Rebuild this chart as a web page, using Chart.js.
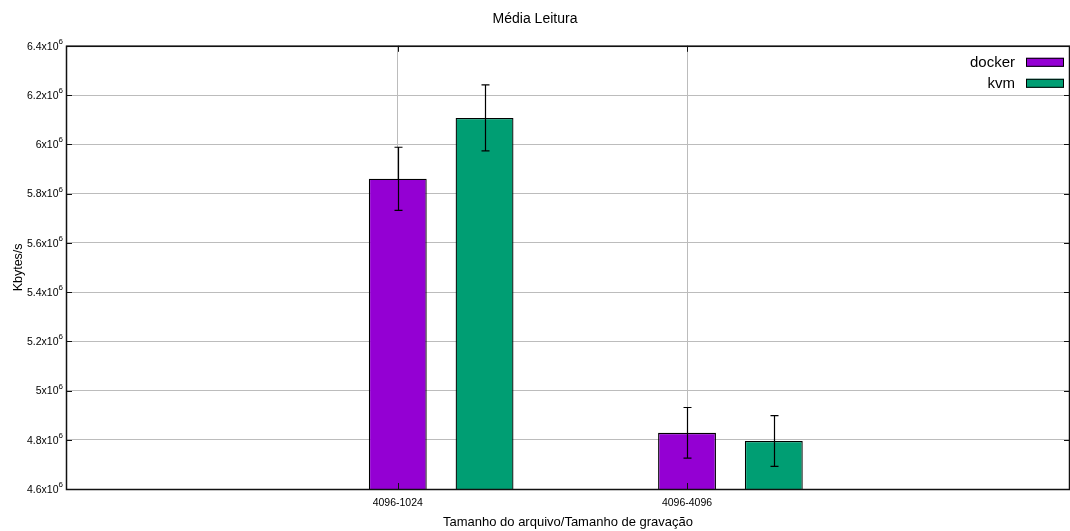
<!DOCTYPE html>
<html>
<head>
<meta charset="utf-8">
<title>Média Leitura</title>
<script src="https://cdn.jsdelivr.net/npm/chart.js@4/dist/chart.umd.min.js"></script>
<style>
  html, body { margin: 0; padding: 0; background: #fff; }
  #wrap { width: 1070px; height: 531px; }
</style>
</head>
<body>
<div id="wrap"><canvas id="chart-leitura"></canvas></div>
<script>
// Read throughput per file size / record size (Kbytes/s), mean and std deviation
const categories = ['4096-1024', '4096-4096'];
const dockerMeans = [5860000, 4828000];
const dockerErrors = [128000, 103000];
const kvmMeans = [6107000, 4795000];
const kvmErrors = [134000, 103000];
const yTicks = [4600000, 4800000, 5000000, 5200000, 5400000, 5600000, 5800000, 6000000, 6200000, 6400000];

const FONT = 'Liberation Sans, Arial, Helvetica, sans-serif';
const colors = {
  docker: '#9400d3',
  kvm: '#009e73',
  grid: '#bcbcbc',
  axis: '#111',
};

// gnuplot-style clustered histogram: second bar sits 0.3 units to the right
const clusterGap = 0.3;

function mantissa(v) {
  return String(Math.round(v / 100000) / 10);
}

// error bars drawn from each bar's centre through the value scale
const errorBars = {
  id: 'errorBars',
  afterDatasetsDraw(chart) {
    const ctx = chart.ctx;
    const y = chart.scales.y;
    ctx.save();
    ctx.strokeStyle = '#000';
    ctx.lineWidth = 1.2;
    chart.data.datasets.forEach((ds, di) => {
      const meta = chart.getDatasetMeta(di);
      meta.data.forEach((bar, i) => {
        const v = ds.data[i].y;
        const e = ds.errors[i];
        const x = Math.round(bar.x) + 0.5;
        const top = y.getPixelForValue(v + e);
        const bot = y.getPixelForValue(v - e);
        ctx.beginPath();
        ctx.moveTo(x, top); ctx.lineTo(x, bot);
        ctx.moveTo(x - 4, top); ctx.lineTo(x + 4, top);
        ctx.moveTo(x - 4, bot); ctx.lineTo(x + 4, bot);
        ctx.stroke();
      });
    });
    ctx.restore();
  },
};

// border box, inward tick marks, y labels with superscript exponent, legend
const frame = {
  id: 'frame',
  afterDraw(chart) {
    const { ctx, chartArea: a } = chart;
    const xs = chart.scales.x, ys = chart.scales.y;
    ctx.save();
    ctx.strokeStyle = colors.axis;
    ctx.lineWidth = 1;
    ctx.beginPath();
    ys.ticks.forEach(t => {
      const py = Math.round(ys.getPixelForValue(t.value)) + 0.5;
      ctx.moveTo(a.left, py); ctx.lineTo(a.left + 6, py);
      ctx.moveTo(a.right, py); ctx.lineTo(a.right - 6, py);
    });
    xs.ticks.forEach(t => {
      const px = Math.round(xs.getPixelForValue(t.value)) + 0.5;
      ctx.moveTo(px, a.bottom); ctx.lineTo(px, a.bottom - 6);
      ctx.moveTo(px, a.top); ctx.lineTo(px, a.top + 6);
    });
    ctx.stroke();
    ctx.lineWidth = 1.5;
    ctx.strokeRect(a.left + 0.5, a.top + 0.5, a.right - a.left - 1, a.bottom - a.top);

    // y tick labels: "m x10" + raised "6"
    ctx.fillStyle = '#000';
    ctx.textBaseline = 'middle';
    ctx.textAlign = 'right';
    ys.ticks.forEach(t => {
      const py = ys.getPixelForValue(t.value);
      ctx.font = '8px ' + FONT;
      const supW = ctx.measureText('6').width;
      ctx.fillText('6', a.left - 3, py - 4);
      ctx.font = '10.5px ' + FONT;
      ctx.fillText(mantissa(t.value) + 'x10', a.left - 3 - supW, py + 1);
    });

    // legend: label right-aligned, swatch on the right
    ctx.font = '15px ' + FONT;
    ctx.textAlign = 'right';
    ctx.textBaseline = 'middle';
    chart.data.datasets.forEach((ds, i) => {
      const boxR = a.right - 6;
      const boxT = a.top + 12 + i * 21;
      ctx.fillStyle = ds.backgroundColor;
      ctx.fillRect(boxR - 38, boxT, 38, 9);
      ctx.lineWidth = 1;
      ctx.strokeStyle = '#000';
      ctx.strokeRect(boxR - 38 + 0.5, boxT + 0.5, 37, 8);
      ctx.fillStyle = '#000';
      ctx.fillText(ds.label, boxR - 49, boxT + 5);
    });
    ctx.restore();
  },
};

new Chart(document.getElementById('chart-leitura'), {
  type: 'bar',
  data: {
    datasets: [
      {
        label: 'docker',
        data: categories.map((c, i) => ({ x: i, y: dockerMeans[i] })),
        errors: dockerErrors,
        backgroundColor: colors.docker,
      },
      {
        label: 'kvm',
        data: categories.map((c, i) => ({ x: i + clusterGap, y: kvmMeans[i] })),
        errors: kvmErrors,
        backgroundColor: colors.kvm,
      },
    ],
  },
  options: {
    responsive: true,
    maintainAspectRatio: false,
    animation: false,
    layout: { padding: { left: 0, right: 0, top: 0, bottom: 0 } },
    datasets: {
      bar: {
        grouped: false,
        categoryPercentage: 1,
        barPercentage: 0.667,
        borderColor: '#000',
        borderWidth: 1.3,
        borderSkipped: false,
      },
    },
    plugins: {
      legend: { display: false },
      tooltip: { enabled: false },
      title: {
        display: true,
        text: 'Média Leitura',
        color: '#000',
        font: { family: FONT, size: 14, weight: 'normal' },
        padding: { top: 11, bottom: 18 },
      },
    },
    scales: {
      x: {
        type: 'linear',
        min: -1.147,
        max: 2.324,
        offset: false,
        afterBuildTicks: scale => {
          scale.ticks = categories.map((c, i) => ({ value: i }));
        },
        afterFit: scale => { scale.height = 42; },
        ticks: {
          callback: v => categories[v],
          color: '#000',
          font: { family: FONT, size: 10.5 },
          padding: 8,
          maxRotation: 0,
        },
        grid: { color: colors.grid, offset: false, drawTicks: false },
        border: { display: false },
        title: {
          display: true,
          text: 'Tamanho do arquivo/Tamanho de gravação',
          color: '#000',
          font: { family: FONT, size: 13 },
          padding: { top: 0, bottom: 1 },
        },
      },
      y: {
        min: yTicks[0],
        max: yTicks[yTicks.length - 1],
        afterBuildTicks: scale => {
          scale.ticks = yTicks.map(v => ({ value: v }));
        },
        afterFit: scale => { scale.width = 66; },
        ticks: { display: false },
        grid: { color: colors.grid, drawTicks: false },
        border: { display: false },
        title: {
          display: true,
          text: 'Kbytes/s',
          color: '#000',
          font: { family: FONT, size: 12.5 },
          padding: { top: 11, bottom: 0 },
        },
      },
    },
  },
  plugins: [errorBars, frame],
});
</script>
</body>
</html>
